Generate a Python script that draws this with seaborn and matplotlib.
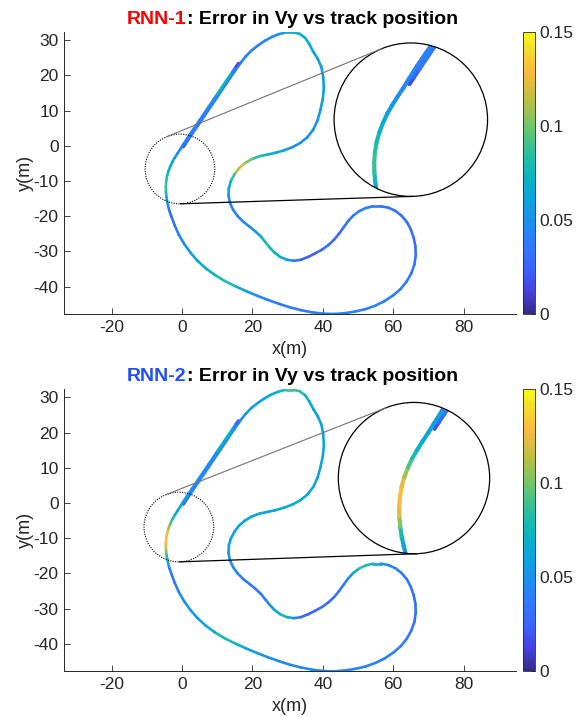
import numpy as np
import matplotlib
matplotlib.use("Agg")
import matplotlib.pyplot as plt
import seaborn as sns
from matplotlib.collections import LineCollection
from matplotlib.colors import LinearSegmentedColormap, Normalize
from matplotlib.cm import ScalarMappable
from matplotlib.patches import Circle
from matplotlib.transforms import Affine2D, offset_copy

sns.set_style("ticks", {"xtick.direction": "in", "ytick.direction": "in"})
plt.rcParams['font.family'] = ['Liberation Sans', 'DejaVu Sans']
plt.rcParams['axes.unicode_minus'] = False

# track centreline (m); the last points run back up the start straight
track_x = [0.4, 1.0, 1.8, 3.0, 5.0, 7.5, 10.0, 12.5, 15.0, 16.7,
           18.2, 19.8, 21.6, 23.5, 25.5, 27.5, 29.5, 31.5, 33.4, 35.0,
           36.2, 37.3, 38.6, 39.6, 40.1, 40.3, 40.0, 39.3, 38.5, 37.3,
           35.6, 33.6, 31.4, 29.0, 26.6, 24.3, 22.0, 19.8, 17.8, 16.2,
           14.9, 13.9, 13.3, 13.2, 13.6, 14.5, 15.8, 17.4, 19.2, 20.9,
           22.4, 23.6, 24.8, 26.2, 27.9, 29.8, 31.8, 33.8, 35.8, 37.8,
           39.8, 41.6, 43.2, 44.6, 45.9, 47.2, 48.6, 50.3, 52.2, 54.3,
           56.5, 58.6, 60.6, 62.4, 63.9, 65.0, 65.8, 66.3, 66.4, 66.0,
           65.1, 63.8, 62.1, 60.0, 57.6, 55.0, 52.2, 49.2, 46.1, 43.0,
           39.9, 36.8, 33.7, 30.6, 27.5, 24.4, 21.3, 18.2, 15.1, 12.1,
           9.3, 6.7, 4.4, 2.4, 0.6, -0.9, -2.1, -3.1, -3.6, -3.95,
           -4.25, -4.45, -4.58, -4.6, -4.5, -4.25, -3.85, -3.35, -2.75, -2.05,
           -1.3, -0.5, 0.3, 1.5, 2.8, 5.0, 7.5, 10.0, 12.5, 14.3,
           15.3, 16.0]
track_y = [-0.4, 0.5, 1.7, 3.5, 6.4, 10.1, 13.8, 17.5, 21.2, 23.6,
           25.5, 27.1, 28.5, 29.8, 30.9, 31.7, 32.2, 32.2, 31.8, 30.6,
           28.8, 26.7, 24.6, 22.3, 19.6, 16.5, 13.3, 10.1, 7.2, 4.6,
           2.4, 0.8, -0.4, -1.3, -2.0, -2.5, -3.0, -3.8, -5.0, -6.4,
           -8.1, -10.0, -12.0, -14.1, -16.2, -18.2, -20.0, -21.6, -23.0, -24.4,
           -25.8, -27.3, -28.8, -30.3, -31.6, -32.4, -32.7, -32.4, -31.6, -30.6,
           -29.5, -28.2, -26.7, -25.0, -23.2, -21.4, -19.9, -18.6, -17.7, -17.2,
           -17.2, -17.6, -18.5, -19.9, -21.7, -23.8, -26.1, -28.6, -31.2, -33.8,
           -36.3, -38.6, -40.7, -42.5, -44.1, -45.4, -46.4, -47.1, -47.6, -47.8,
           -47.7, -47.3, -46.7, -45.9, -44.9, -43.8, -42.6, -41.3, -39.9, -38.4,
           -36.7, -34.8, -32.7, -30.4, -27.9, -25.3, -22.6, -19.9, -18.5, -17.1,
           -15.7, -14.3, -12.9, -11.5, -10.1, -8.6, -7.2, -5.9, -4.6, -3.4,
           -2.2, -1.0, 0.3, 2.2, 4.1, 7.3, 11.0, 14.7, 18.4, 21.0,
           22.5, 23.5]

# |error in Vy| at each track point
err_rnn1 = [0.012, 0.015, 0.03, 0.038, 0.04, 0.04, 0.04, 0.04, 0.04, 0.04,
            0.04, 0.04, 0.04, 0.042, 0.045, 0.05, 0.062, 0.07, 0.07, 0.068,
            0.065, 0.065, 0.06, 0.055, 0.055, 0.058, 0.06, 0.058, 0.055, 0.05,
            0.048, 0.048, 0.05, 0.055, 0.065, 0.072, 0.08, 0.09, 0.11, 0.125,
            0.1, 0.075, 0.06, 0.05, 0.045, 0.042, 0.042, 0.042, 0.045, 0.05,
            0.065, 0.085, 0.08, 0.072, 0.068, 0.062, 0.04, 0.025, 0.022, 0.025,
            0.03, 0.032, 0.028, 0.025, 0.03, 0.035, 0.038, 0.04, 0.04, 0.038,
            0.035, 0.032, 0.03, 0.03, 0.032, 0.032, 0.03, 0.03, 0.032, 0.035,
            0.037, 0.038, 0.038, 0.038, 0.04, 0.042, 0.042, 0.04, 0.04, 0.042,
            0.042, 0.04, 0.038, 0.038, 0.038, 0.04, 0.045, 0.055, 0.075, 0.085,
            0.075, 0.068, 0.065, 0.06, 0.05, 0.042, 0.035, 0.03, 0.033, 0.04,
            0.055, 0.07, 0.085, 0.09, 0.088, 0.082, 0.075, 0.068, 0.062, 0.056,
            0.05, 0.046, 0.044, 0.042, 0.04, 0.04, 0.04, 0.06, 0.09, 0.05,
            0.02, 0.012]
err_rnn2 = [0.015, 0.02, 0.035, 0.042, 0.044, 0.045, 0.045, 0.045, 0.045, 0.048,
            0.052, 0.056, 0.058, 0.06, 0.062, 0.068, 0.085, 0.09, 0.09, 0.075,
            0.065, 0.06, 0.058, 0.058, 0.06, 0.065, 0.065, 0.06, 0.058, 0.06,
            0.065, 0.07, 0.068, 0.065, 0.062, 0.06, 0.06, 0.06, 0.062, 0.062,
            0.062, 0.062, 0.06, 0.055, 0.05, 0.045, 0.042, 0.04, 0.038, 0.035,
            0.035, 0.038, 0.045, 0.06, 0.075, 0.08, 0.05, 0.025, 0.022, 0.025,
            0.03, 0.032, 0.032, 0.035, 0.038, 0.045, 0.06, 0.08, 0.09, 0.07,
            0.055, 0.045, 0.04, 0.038, 0.036, 0.034, 0.032, 0.03, 0.03, 0.032,
            0.035, 0.037, 0.038, 0.04, 0.04, 0.042, 0.042, 0.04, 0.042, 0.045,
            0.045, 0.045, 0.045, 0.045, 0.045, 0.048, 0.05, 0.06, 0.075, 0.085,
            0.07, 0.062, 0.058, 0.055, 0.05, 0.045, 0.04, 0.035, 0.045, 0.06,
            0.07, 0.09, 0.115, 0.125, 0.13, 0.13, 0.115, 0.1, 0.085, 0.075,
            0.068, 0.062, 0.06, 0.055, 0.05, 0.045, 0.045, 0.055, 0.08, 0.065,
            0.035, 0.015]

models = ['RNN-1', 'RNN-2']
model_colors = ['#ff0000', '#1f4fff']
cbar_ticks = [0, 0.05, 0.1, 0.15]
cbar_labels = ['0', '0.05', '0.1', '0.15']

# parula (approx.)
parula = LinearSegmentedColormap.from_list('parula', [
    (0.00, (0.208, 0.166, 0.529)),
    (0.08, (0.275, 0.255, 0.870)),
    (0.16, (0.235, 0.390, 0.995)),
    (0.24, (0.190, 0.470, 0.990)),
    (0.32, (0.110, 0.560, 0.940)),
    (0.40, (0.050, 0.640, 0.870)),
    (0.48, (0.030, 0.705, 0.770)),
    (0.56, (0.140, 0.745, 0.640)),
    (0.66, (0.420, 0.780, 0.420)),
    (0.76, (0.740, 0.750, 0.260)),
    (0.86, (0.990, 0.730, 0.240)),
    (0.94, (0.960, 0.870, 0.160)),
    (1.00, (0.976, 0.984, 0.081))])
norm = Normalize(0, 0.15)

# zoom decorations: dotted circle, inset circle, centre of the magnified area, magnification
zooms = [dict(c=(-0.6, -6.6), r=9.9, C=(65.0, 7.4), R=21.8, src=(0.6, -5.45), k=2.0),
         dict(c=(-0.9, -6.8), r=9.9, C=(65.9, 7.1), R=21.5, src=(-2.5, -7.4), k=2.0)]

dark = (0.15, 0.15, 0.15)
fig = plt.figure(figsize=(5.78, 7.17), dpi=100)
ax_rects = [[0.1109, 0.5621, 0.7826, 0.3937], [0.1109, 0.0637, 0.7826, 0.3937]]

pts = np.column_stack([track_x, track_y])
segs = np.stack([pts[:-1], pts[1:]], axis=1)


def tangent(c, r, C, R, side):
    d = np.subtract(C, c)
    th = np.arctan2(d[1], d[0])
    a = np.arcsin((R - r) / np.hypot(*d))
    psi = th + side * (np.pi / 2 + a)
    n = np.array([np.cos(psi), np.sin(psi)])
    return np.array(c) + r * n, np.array(C) + R * n


for i, (err, name, col, z) in enumerate(zip([err_rnn1, err_rnn2], models, model_colors, zooms)):
    ax = fig.add_axes(ax_rects[i])
    e = np.asarray(err)
    seg_err = (e[:-1] + e[1:]) / 2

    lc = LineCollection(segs, cmap=parula, norm=norm, linewidths=1.9,
                        capstyle='round', joinstyle='round')
    lc.set_array(seg_err)
    ax.add_collection(lc)

    # magnified view inside the big circle
    big = Circle(z['C'], z['R'], fill=False, ec='black', lw=0.9, zorder=3)
    ax.add_patch(big)
    mag = (Affine2D().translate(-z['src'][0], -z['src'][1]).scale(z['k'])
           .translate(*z['C']) + ax.transData)
    lc2 = LineCollection(segs, cmap=parula, norm=norm, linewidths=3.0,
                         capstyle='round', joinstyle='round', transform=mag)
    lc2.set_array(seg_err)
    ax.add_collection(lc2)
    lc2.set_clip_path(big)

    ax.add_patch(Circle(z['c'], z['r'], fill=False, ec='black', lw=0.8,
                        ls=(0, (1, 1.2)), zorder=3))
    p1, q1 = tangent(z['c'], z['r'], z['C'], z['R'], 1)
    p2, q2 = tangent(z['c'], z['r'], z['C'], z['R'], -1)
    ax.plot([p1[0], q1[0]], [p1[1], q1[1]], color='0.45', lw=0.8, zorder=3)
    ax.plot([p2[0], q2[0]], [p2[1], q2[1]], color='black', lw=0.9, zorder=3)

    ax.set_xlim(-33.5, 95)
    ax.set_ylim(-47.8, 32.4)
    ax.set_aspect('equal')
    ax.set_xticks([-20, 0, 20, 40, 60, 80])
    ax.set_yticks([-40, -30, -20, -10, 0, 10, 20, 30])
    sns.despine(ax=ax)
    for s in ['left', 'bottom']:
        ax.spines[s].set_color(dark)
        ax.spines[s].set_linewidth(0.7)
    ax.tick_params(direction='in', length=4, width=0.6, color=dark,
                   labelcolor=dark, labelsize=12.5, pad=4)
    ax.set_xlabel('x(m)', fontsize=13, color=dark, labelpad=4.5)
    ax.set_ylabel('y(m)', fontsize=13, color=dark, labelpad=0)

    # two-colour title
    t1 = ax.text(0.505, 1.027, name, transform=ax.transAxes, color=col,
                 fontsize=14, fontweight='bold', ha='left', va='baseline')
    t2 = ax.text(0.505, 1.027, ': Error in Vy vs track position', transform=ax.transAxes,
                 color='black', fontsize=14, fontweight='bold', ha='left', va='baseline')
    fig.canvas.draw()
    w1 = t1.get_window_extent().width
    w2 = t2.get_window_extent().width
    t1.set_transform(offset_copy(ax.transAxes, fig=fig, x=-(w1 + w2) / 2, y=0, units='dots'))
    t2.set_transform(offset_copy(ax.transAxes, fig=fig, x=-(w1 + w2) / 2 + w1, y=0, units='dots'))

    r = ax_rects[i]
    cax = fig.add_axes([0.905, r[1], 0.021, r[3]])
    cb = fig.colorbar(ScalarMappable(norm=norm, cmap=parula), cax=cax)
    cb.set_ticks(cbar_ticks)
    cb.set_ticklabels(cbar_labels)
    cb.outline.set_linewidth(0.6)
    cb.outline.set_edgecolor(dark)
    cax.tick_params(direction='in', length=3, width=0.6, color=dark,
                    labelcolor=dark, labelsize=12.5, pad=3)

fig.savefig('out.png', dpi=100)
